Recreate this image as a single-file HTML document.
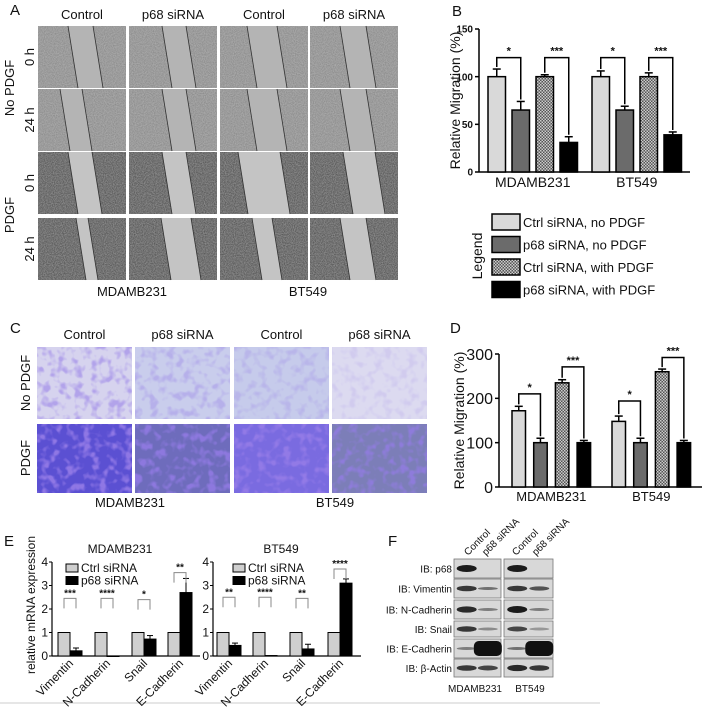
<!DOCTYPE html>
<html><head><meta charset="utf-8"><style>
html,body{margin:0;padding:0;background:#fff}
svg{display:block;font-family:"Liberation Sans",Arial,sans-serif}
</style></head><body>
<svg id="fig" width="705" height="708" viewBox="0 0 705 708" xmlns="http://www.w3.org/2000/svg">
<defs>
<filter id="noiseA" x="0" y="0" width="100%" height="100%"><feTurbulence type="fractalNoise" baseFrequency="0.9" numOctaves="2" seed="3"/><feColorMatrix type="matrix" values="0 0 0 0 0  0 0 0 0 0  0 0 0 0 0  0 0 0 -1.2 0.9"/></filter>
<filter id="noiseC" x="0" y="0" width="100%" height="100%"><feTurbulence type="fractalNoise" baseFrequency="0.12" numOctaves="2" seed="7"/><feColorMatrix type="matrix" values="0 0 0 0 0.3  0 0 0 0 0.2  0 0 0 0 0.8  0 0 0 -4 2.1"/></filter>
<pattern id="check" width="3" height="3" patternUnits="userSpaceOnUse"><rect width="3" height="3" fill="#555"/><rect width="1.5" height="1.5" fill="#ccc"/><rect x="1.5" y="1.5" width="1.5" height="1.5" fill="#ccc"/></pattern>
</defs>
<line x1="0" y1="703" x2="600" y2="703" stroke="#ccc"/>
</svg>
<script>
// ---- data ----
const bGroups=["MDAMB231","BT549"];
const bValues=[[100,65,100,31],[100,65,100,39]];
const bErrors=[[8,9,2,6],[6,4,4,3]];
const bStars=[["*","***"],["*","***"]];
const bTicks=[0,50,100,150];
const legendLabels=["Ctrl siRNA, no PDGF","p68 siRNA, no PDGF","Ctrl siRNA, with PDGF","p68 siRNA, with PDGF"];
const dGroups=["MDAMB231","BT549"];
const dValues=[[172,100,235,100],[148,100,260,100]];
const dErrors=[[10,10,7,5],[12,10,6,5]];
const dBrackets=[[210,271],[194,292]];
const dStars=[["*","***"],["*","***"]];
const dTicks=[0,100,200,300];
const eGenes=["Vimentin","N-Cadherin","Snail","E-Cadherin"];
const eCtrl=[1,1,1,1];
const eLeftP68=[0.22,0.0,0.72,2.7];
const eLeftErr=[0.12,0,0.15,0.6];
const eLeftStars=["***","****","*","**"];
const eLeftBr=[2.45,2.45,2.4,3.55];
const eRightP68=[0.45,0.02,0.3,3.1];
const eRightErr=[0.1,0,0.2,0.18];
const eRightStars=["**","****","**","****"];
const eRightBr=[2.5,2.5,2.45,3.7];
const eTicks=[0,1,2,3,4];
const fRows=["IB: p68","IB: Vimentin","IB: N-Cadherin","IB: Snail","IB: E-Cadherin","IB: β-Actin"];

const svg=document.getElementById('fig');
const NS="http://www.w3.org/2000/svg";
function el(tag,attrs,parent){const e=document.createElementNS(NS,tag);for(const k in attrs)e.setAttribute(k,attrs[k]);(parent||svg).appendChild(e);return e;}
function txt(s,x,y,size,attrs,parent){const t=el('text',Object.assign({x:x,y:y,'font-size':size,fill:'#111'},attrs||{}),parent);t.textContent=s;return t;}

// ---- Panel A ----
const gA=el('g',{});


txt("A",10,15,15,{},gA);
const aCols=[38,129,220,310],aRows=[26,89,152,218],aW=88,aH=62;
const aHead=["Control","p68 siRNA","Control","p68 siRNA"];
aCols.forEach((x,i)=>{const t=txt(aHead[i],x+aW/2,19,13,{'text-anchor':'middle'},gA);});
const gapA=[[30,25],[33,24],[27,30],[30,26],[22,22],[33,24],[27,30],[30,26],[30,24],[33,24],[18,42],[33,32],[38,12],[32,30],[32,20],[30,26]];
aRows.forEach((y,r)=>{aCols.forEach((x,c)=>{
 const g=el('g',{},gA);
 
 
 const dark=r>=2;
 el('rect',{x:x,y:y,width:aW,height:aH,fill:dark?'#8a8a8a':'#a9a9a9'},g);
 el('rect',{x:x,y:y,width:aW,height:aH,filter:'url(#noiseA)',opacity:dark?0.55:0.25},g);
 const [s,w]=gapA[r*4+c];const x0=x+s,sl=10;
 el('polygon',{points:`${x0},${y} ${x0+w},${y} ${x0+w+sl},${y+aH} ${x0+sl},${y+aH}`,fill:dark?'#c4c4c4':'#b4b4b4'},g);
 el('line',{x1:x0,y1:y,x2:x0+sl,y2:y+aH,stroke:'#333','stroke-width':0.8},g);
 el('line',{x1:x0+w,y1:y,x2:x0+w+sl,y2:y+aH,stroke:'#333','stroke-width':0.8},g);
});});
["0 h","24 h","0 h","24 h"].forEach((s,i)=>{txt(s,0,0,13,{'text-anchor':'middle',transform:`translate(34,${aRows[i]+aH/2}) rotate(-90)`},gA);});
txt("No PDGF",0,0,13,{'text-anchor':'middle',transform:`translate(14,88) rotate(-90)`},gA);
txt("PDGF",0,0,13,{'text-anchor':'middle',transform:`translate(14,215) rotate(-90)`},gA);
txt("MDAMB231",132,296,13,{'text-anchor':'middle'},gA);
txt("BT549",308,296,13,{'text-anchor':'middle'},gA);

// ---- Panel C ----
const gC=el('g',{});


txt("C",10,333,15,{},gC);
const cCols=[37,135,234,332],cRows=[347,424],cW=95,cH=[72,69];
aHead.forEach((s,i)=>txt(s,cCols[i]+cW/2,339,13,{'text-anchor':'middle'},gC));
const cBg=[["#d6d3ee","#c9cdec","#c6cbeb","#dcdaf0"],["#5b50d2","#6e6cbc","#7a6be0","#7c7eb8"]];
const cOp=[[0.55,0.35,0.25,0.15],[0.9,0.8,0.9,0.75]];
cRows.forEach((y,r)=>cCols.forEach((x,c)=>{
 const g=el('g',{},gC);
 
 
 el('rect',{x:x,y:y,width:cW,height:cH[r],fill:cBg[r][c]},g);
 el('rect',{x:x,y:y,width:cW,height:cH[r],filter:'url(#noiseC)',opacity:cOp[r][c]},g);
}));
txt("No PDGF",0,0,13,{'text-anchor':'middle',transform:`translate(30,383) rotate(-90)`},gC);
txt("PDGF",0,0,13,{'text-anchor':'middle',transform:`translate(30,458) rotate(-90)`},gC);
txt("MDAMB231",130,507,13,{'text-anchor':'middle'},gC);
txt("BT549",335,507,13,{'text-anchor':'middle'},gC);

// ---- bar chart helper ----
const fills=['#d9d9d9','#6b6b6b','url(#check)','#000'];
function barChart(cfg){
 const g=el('g',{});
 
 
 const y=v=>cfg.y0-(v/cfg.max)*(cfg.y0-cfg.yTop);
 el('line',{x1:cfg.x0,y1:cfg.yTop,x2:cfg.x0,y2:cfg.y0,stroke:'#000','stroke-width':1.5},g);
 el('line',{x1:cfg.x0,y1:cfg.y0,x2:cfg.xEnd,y2:cfg.y0,stroke:'#000','stroke-width':1.5},g);
 cfg.ticks.forEach(t=>{el('line',{x1:cfg.x0-4,y1:y(t),x2:cfg.x0,y2:y(t),stroke:'#000','stroke-width':1.5},g);
  const tl=txt(String(t),cfg.x0-6,y(t)+cfg.tickSize*0.36,cfg.tickSize,{'text-anchor':'end','font-weight':cfg.tickBold?'bold':'normal'},g);
  });
 cfg.values.forEach((vals,gi)=>{
  const gx=cfg.gStart+gi*cfg.gStep;
  const cx=[];
  vals.forEach((v,bi)=>{
   const bx=gx+bi*cfg.bStep;cx.push(bx+cfg.bw/2);
   const e=cfg.errors[gi][bi];
   el('line',{x1:bx+cfg.bw/2,y1:y(v+e),x2:bx+cfg.bw/2,y2:y(v),stroke:'#000','stroke-width':1.5},g);
   el('line',{x1:bx+cfg.bw/2-4,y1:y(v+e),x2:bx+cfg.bw/2+4,y2:y(v+e),stroke:'#000','stroke-width':1.5},g);
   const r=el('rect',{x:bx,y:y(v),width:cfg.bw,height:cfg.y0-y(v),fill:fills[bi],stroke:'#000','stroke-width':1.5},g);
   
   
  });
  [[0,1],[2,3]].forEach((p,pi)=>{
   const lv=y(cfg.brackets[gi][pi]);
   const a=cx[p[0]],b=cx[p[1]];
   const ya=y(vals[p[0]]+cfg.errors[gi][p[0]])-2,yb=y(vals[p[1]]+cfg.errors[gi][p[1]])-2;
   el('polyline',{points:`${a},${ya} ${a},${lv} ${b},${lv} ${b},${yb}`,fill:'none',stroke:'#000','stroke-width':1.5},g);
   txt(cfg.stars[gi][pi],(a+b)/2,lv-3,11,{'text-anchor':'middle','font-weight':'bold'},g);
  });
  const gl=txt(cfg.groups[gi],gx+cfg.bStep*1.5+cfg.bw/2,cfg.y0+cfg.labelDy,cfg.labelSize,{'text-anchor':'middle'},g);
  
 });
 const yt=txt(cfg.ytitle,0,0,cfg.ytSize,{'text-anchor':'middle',transform:`translate(${cfg.ytX},${(cfg.y0+cfg.yTop)/2}) rotate(-90)`},g);
 
 return g;
}
txt("B",452,16,15,{});
barChart({name:'panel-b-chart',groups:bGroups,values:bValues,errors:bErrors,stars:bStars,brackets:[[120,120],[120,120]],ticks:bTicks,max:150,
 x0:479,xEnd:690,y0:172,yTop:29,gStart:488,gStep:104,bStep:24,bw:17.5,tickSize:10,tickBold:true,labelDy:15,labelSize:14,
 ytitle:"Relative Migration (%)",ytX:460,ytSize:14});
txt("D",450,333,15,{});
barChart({name:'panel-d-chart',groups:dGroups,values:dValues,errors:dErrors,stars:dStars,brackets:dBrackets,ticks:dTicks,max:300,
 x0:499,xEnd:702,y0:487,yTop:354,gStart:512,gStep:100,bStep:21.7,bw:13.5,tickSize:16,tickBold:false,labelDy:14,labelSize:13,
 ytitle:"Relative Migration (%)",ytX:464,ytSize:14});

// legend B
const gL=el('g',{});


legendLabels.forEach((s,i)=>{
 const yy=214+i*22.5;
 const r=el('rect',{x:492,y:yy,width:28,height:16,fill:fills[i],stroke:'#000','stroke-width':1.5},gL);
 
 const t=txt(s,523,yy+13,13,{},gL);
 
});
txt("Legend",0,0,14,{'text-anchor':'middle',transform:'translate(482,256) rotate(-90)'},gL);

// ---- Panel E ----
function eChart(name,title,x0,gStarts,p68,err,stars,br,legX){
 const g=el('g',{});
 
 
 const y0=656,yTop=562,max=4;
 const y=v=>y0-(v/max)*(y0-yTop);
 txt(title,x0+68,553,12,{'text-anchor':'middle'},g);
 el('line',{x1:x0,y1:yTop,x2:x0,y2:y0,stroke:'#000','stroke-width':1.2},g);
 el('line',{x1:x0,y1:y0,x2:x0+148,y2:y0,stroke:'#000','stroke-width':1.2},g);
 eTicks.forEach(t=>{el('line',{x1:x0-3,y1:y(t),x2:x0,y2:y(t),stroke:'#000'},g);txt(String(t),x0-4,y(t)+4,12,{'text-anchor':'end'},g);});
 eGenes.forEach((gene,i)=>{
  const bx=gStarts[i],bw=12;
  const rc=el('rect',{x:bx,y:y(eCtrl[i]),width:bw,height:y0-y(eCtrl[i]),fill:'#cfcfcf',stroke:'#000','stroke-width':1},g);
  
  const v=p68[i],e=err[i];
  if(e>0){el('line',{x1:bx+bw*1.5,y1:y(v+e),x2:bx+bw*1.5,y2:y(v),stroke:'#000'},g);el('line',{x1:bx+bw*1.5-3,y1:y(v+e),x2:bx+bw*1.5+3,y2:y(v+e),stroke:'#000'},g);}
  const rp=el('rect',{x:bx+bw,y:y(v),width:bw,height:Math.max(y0-y(v),0.5),fill:'#000',stroke:'#000','stroke-width':1},g);
  
  const lv=y(br[i]);const a=bx+bw/2,b=bx+bw*1.5;
  el('polyline',{points:`${a},${lv+10} ${a},${lv} ${b},${lv} ${b},${lv+10}`,fill:'none',stroke:'#888','stroke-width':1},g);
  txt(stars[i],(a+b)/2,lv-2,10,{'text-anchor':'middle','font-weight':'bold'},g);
  const gl=txt(gene,0,0,12,{'text-anchor':'end',transform:`translate(${bx+bw+4},${y0+8}) rotate(-45)`},g);
  
 });
 [["Ctrl siRNA","#cfcfcf"],["p68 siRNA","#000"]].forEach((l,i)=>{
  el('rect',{x:legX,y:564+i*12.5,width:12,height:8,fill:l[1],stroke:'#000'},g);
  const t=txt(l[0],legX+15,572+i*12.5,12,{},g);
  
 });
}
txt("E",4,546,15,{});
txt("relative mRNA expression",0,0,12,{'text-anchor':'middle',transform:'translate(35,605) rotate(-90)'});
eChart('panel-e-mdamb231','MDAMB231',52,[58,95,132,168],eLeftP68,eLeftErr,eLeftStars,eLeftBr,66);
eChart('panel-e-bt549','BT549',213,[217,253,290,328],eRightP68,eRightErr,eRightStars,eRightBr,233);

// ---- Panel F ----
const gF=el('g',{});


txt("F",388,546,15,{},gF);
const fY=[559,579,600,621,639,659],fH=[19,19,19,16,19,18];
const fBands=[[[1,0],[1,0]],[[.8,.4],[.8,.6]],[[.9,.3],[1,.3]],[[.8,.2],[.7,.1]],[[.3,1.6],[.4,1.8]],[[.8,.7],[.9,.8]]];
fRows.forEach((s,i)=>{
 const t=txt(s,452,fY[i]+fH[i]/2+4,10,{'text-anchor':'end'},gF);
 
 [[454,47],[504,49]].forEach((bx,k)=>{
  const r=el('rect',{x:bx[0],y:fY[i],width:bx[1],height:fH[i],fill:'#d8d8d8',stroke:'#777','stroke-width':0.8},gF);
  
  fBands[i][k].forEach((w,j)=>{if(w<=0)return;
   const big=w>1;const cx=bx[0]+bx[1]*(j?0.72:0.27);
   if(big){el('rect',{x:cx-14,y:fY[i]+2,width:28,height:fH[i]-4,rx:5,fill:'#111'},gF);return;}
   const hh=Math.max(3,7*w);
   el('ellipse',{cx:cx,cy:fY[i]+fH[i]/2,rx:10,ry:hh/2,fill:'#111',opacity:Math.min(1,0.25+w*0.7)},gF);});
 });
});
[["Control",468],["p68 siRNA",486],["Control",516],["p68 siRNA",536]].forEach(c=>txt(c[0],0,0,10,{transform:`translate(${c[1]},556) rotate(-45)`},gF));
txt("MDAMB231",475,692,10,{'text-anchor':'middle'},gF);
txt("BT549",530,692,10,{'text-anchor':'middle'},gF);
</script>
</body></html>
